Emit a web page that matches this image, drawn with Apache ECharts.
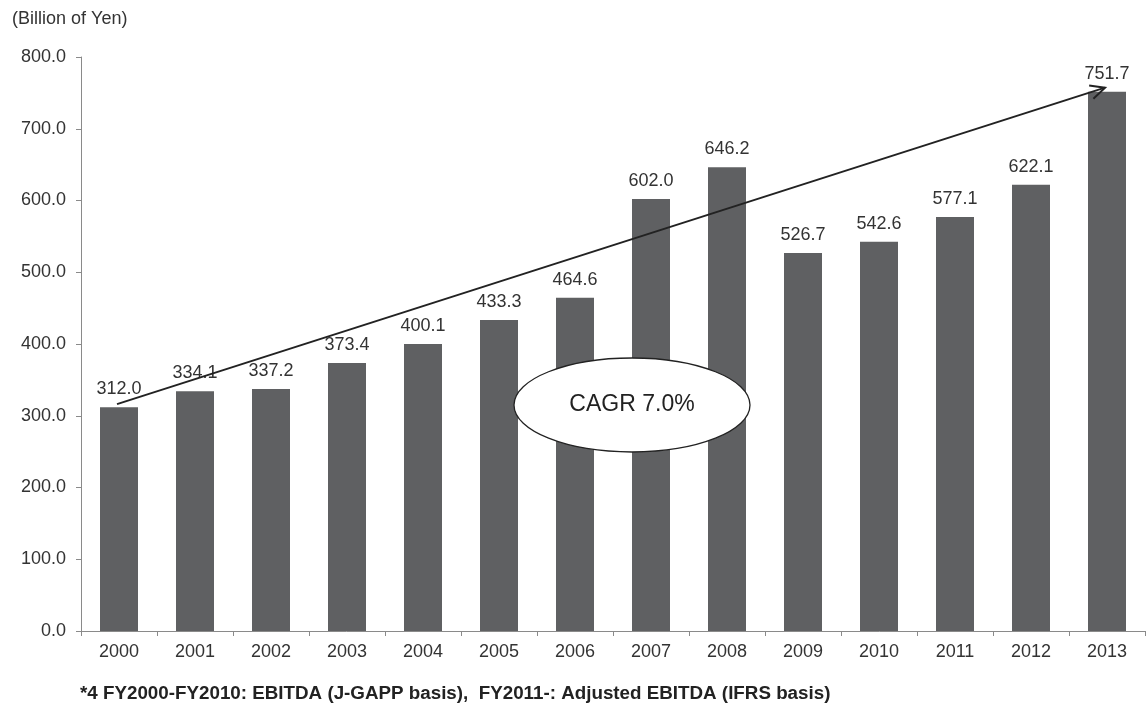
<!DOCTYPE html>
<html><head><meta charset="utf-8">
<script src="https://cdn.jsdelivr.net/npm/echarts@6/dist/echarts.min.js"></script>
<style>html,body{margin:0;padding:0;background:#fff}#c{width:1146px;height:715px}</style>
</head><body><div id="c"></div>
<script>
const years = ['2000','2001','2002','2003','2004','2005','2006','2007','2008','2009','2010','2011','2012','2013'];
const ebitda = [312.0,334.1,337.2,373.4,400.1,433.3,464.6,602.0,646.2,526.7,542.6,577.1,622.1,751.7];
const yTicks = [0,100,200,300,400,500,600,700,800];
const unitLabel = '(Billion of Yen)';
const cagrText = 'CAGR 7.0%';
const footnote = '*4 FY2000-FY2010: EBITDA (J-GAPP basis),  FY2011-: Adjusted EBITDA (IFRS basis)';

const chart = echarts.init(document.getElementById('c'));
const font = 'Liberation Sans, Arial, sans-serif';
chart.setOption({
  animation:false,
  grid:{left:81,right:1,top:57,bottom:84},
  xAxis:{type:'category',data:years,
    axisLine:{lineStyle:{color:'#8a8a8a',width:1}},
    axisTick:{show:true,length:5,alignWithLabel:false,lineStyle:{color:'#8a8a8a'}},
    axisLabel:{color:'#333',fontSize:18,fontFamily:font,margin:12}},
  yAxis:{type:'value',min:yTicks[0],max:yTicks[yTicks.length-1],interval:100,
    axisLine:{show:true,lineStyle:{color:'#8a8a8a',width:1}},
    axisTick:{show:true,length:5,lineStyle:{color:'#8a8a8a'}},
    splitLine:{show:false},
    axisLabel:{color:'#333',fontSize:18,fontFamily:font,margin:15,formatter:v=>v.toFixed(1)}},
  series:[{type:'bar',data:ebitda,barWidth:'50%',itemStyle:{color:'#5f6062'},
    label:{show:true,position:'top',distance:9,color:'#333',fontSize:18,fontFamily:font,formatter:p=>p.value.toFixed(1)}},
  {type:'custom',data:[0],silent:true,z:5,renderItem:function(params,api){
    const p0=api.coord([0,ebitda[0]]); const p1=api.coord([years.length-1,ebitda[ebitda.length-1]]);
    const a=[p0[0]-2,p0[1]-3], b=[p1[0]-2,p1[1]-4];
    const ang=Math.atan2(b[1]-a[1],b[0]-a[0]);
    const L=16, w=0.45;
    const h1=[b[0]-L*Math.cos(ang-w),b[1]-L*Math.sin(ang-w)];
    const h2=[b[0]-L*Math.cos(ang+w),b[1]-L*Math.sin(ang+w)];
    return {type:'group',children:[
      {type:'line',shape:{x1:a[0],y1:a[1],x2:b[0],y2:b[1]},style:{stroke:'#222',lineWidth:2}},
      {type:'polyline',shape:{points:[h1,b,h2]},style:{stroke:'#222',lineWidth:2,fill:null}}
    ]};
  }},
  {type:'custom',data:[0],silent:true,z:6,renderItem:function(params,api){
    const c6=api.coord([6,315]), c7=api.coord([7,315]);
    const cx=c6[0]+0.75*(c7[0]-c6[0]), cy=c6[1];
    return {type:'group',children:[
      {type:'ellipse',shape:{cx:cx,cy:cy,rx:118,ry:47},style:{fill:'#fff',stroke:'#222',lineWidth:1.3}},
      {type:'text',x:cx,y:cy,style:{text:cagrText,fill:'#222',font:'23px '+font,align:'center',verticalAlign:'middle'}}
    ]};
  }}],
  graphic:[
    {type:'text',left:12,top:10,style:{text:unitLabel,fill:'#333',font:'18px '+font}},
    {type:'text',left:80,top:684,style:{text:footnote,fill:'#222',font:'bold 18.8px '+font}}
  ]
});
</script></body></html>
